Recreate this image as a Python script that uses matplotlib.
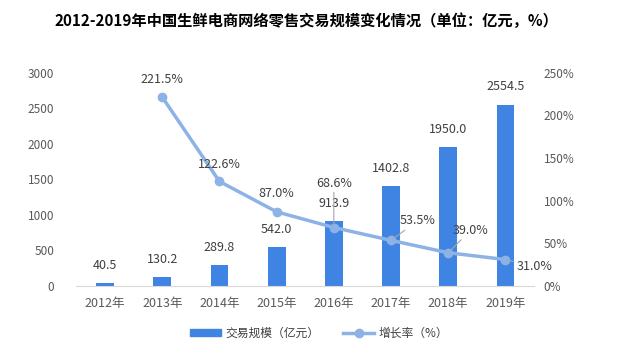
import matplotlib
matplotlib.use("Agg")
import matplotlib.pyplot as plt
from matplotlib.lines import Line2D
from matplotlib.patches import Patch

plt.rcParams['font.family'] = ['Noto Sans CJK SC', 'DejaVu Sans']

years = ["2012年", "2013年", "2014年", "2015年", "2016年", "2017年", "2018年", "2019年"]
scale = [40.5, 130.2, 289.8, 542.0, 913.9, 1402.8, 1950.0, 2554.5]
growth_years = [1, 2, 3, 4, 5, 6, 7]
growth = [221.5, 122.6, 87.0, 68.6, 53.5, 39.0, 31.0]
left_ticks = [0, 500, 1000, 1500, 2000, 2500, 3000]
right_ticks = [0, 50, 100, 150, 200, 250]

bar_color = '#3F83E3'
line_color = '#8DB3E6'
text_color = '#404040'
tick_color = '#595959'

fig = plt.figure(figsize=(6.39, 3.62), dpi=100)
ax = fig.add_axes([0.1197, 0.21, 0.716, 0.5887])
x = list(range(len(years)))
ax.bar(x, scale, width=0.31, color=bar_color, zorder=2)
ax.set_xlim(-0.5, 7.5)
ax.set_ylim(0, 3000)
ax.set_yticks(left_ticks)
ax.set_yticklabels([str(t) for t in left_ticks])
ax.set_xticks(x)
ax.set_xticklabels(years)
for s in ['top', 'right', 'left']:
    ax.spines[s].set_visible(False)
ax.spines['bottom'].set_color('#D9D9D9')
ax.tick_params(axis='both', length=0, colors=tick_color, labelsize=8.5)
ax.tick_params(axis='y', pad=16)
ax.tick_params(axis='x', pad=8, labelsize=9)

for xi, v in zip(x, scale):
    ax.annotate(f"{v:.1f}", (xi, v), xytext=(0, 8), textcoords='offset points',
                ha='center', va='bottom', fontsize=9, color=text_color)

ax2 = ax.twinx()
ax2.set_ylim(0, 250)
ax2.set_yticks(right_ticks)
ax2.set_yticklabels([f"{t}%" for t in right_ticks])
for s in ['top', 'right', 'left', 'bottom']:
    ax2.spines[s].set_visible(False)
ax2.tick_params(axis='y', length=0, colors=tick_color, labelsize=8.5, pad=7)
ax2.plot(growth_years, growth, color=line_color, lw=2.5, marker='o', ms=6,
         zorder=3, solid_capstyle='round')

# label offsets in points (dx, dy) and whether to draw a leader
offsets = {
    221.5: ((0, 13), False),
    122.6: ((0, 12), False),
    87.0: ((0, 13), False),
    68.6: ((0, 32), True),
    53.5: ((19, 14), True),
    39.0: ((16, 16), True),
    31.0: ((8, -5), True),
}
for gx, g in zip(growth_years, growth):
    (dx, dy), lead = offsets[g]
    ha = 'left' if g == 31.0 else 'center'
    kw = {}
    if lead:
        kw['arrowprops'] = dict(arrowstyle='-', color='#A6A6A6', lw=0.8,
                                shrinkA=0, shrinkB=2)
    ax2.annotate(f"{g:.1f}%", (gx, g), xytext=(dx, dy), textcoords='offset points',
                 ha=ha, va='center', fontsize=9, color=text_color, **kw)

ax2.set_zorder(ax.get_zorder() + 1)

fig.text(0.479, 0.943, "2012-2019年中国生鲜电商网络零售交易规模变化情况（单位：亿元，%）",
         ha='center', va='center', fontsize=11, fontweight='bold', color='black')

handles = [Patch(color=bar_color),
           Line2D([0], [0], color=line_color, lw=2.5, marker='o', ms=6)]
fig.legend(handles, ["交易规模（亿元）", "增长率（%）"], loc='center',
           bbox_to_anchor=(0.5, 0.08), ncol=2, frameon=False, fontsize=8.5,
           handlelength=2.6, handleheight=0.5, columnspacing=2.0,
           labelcolor=text_color, handletextpad=0.4)

fig.savefig("out.png", dpi=100)
